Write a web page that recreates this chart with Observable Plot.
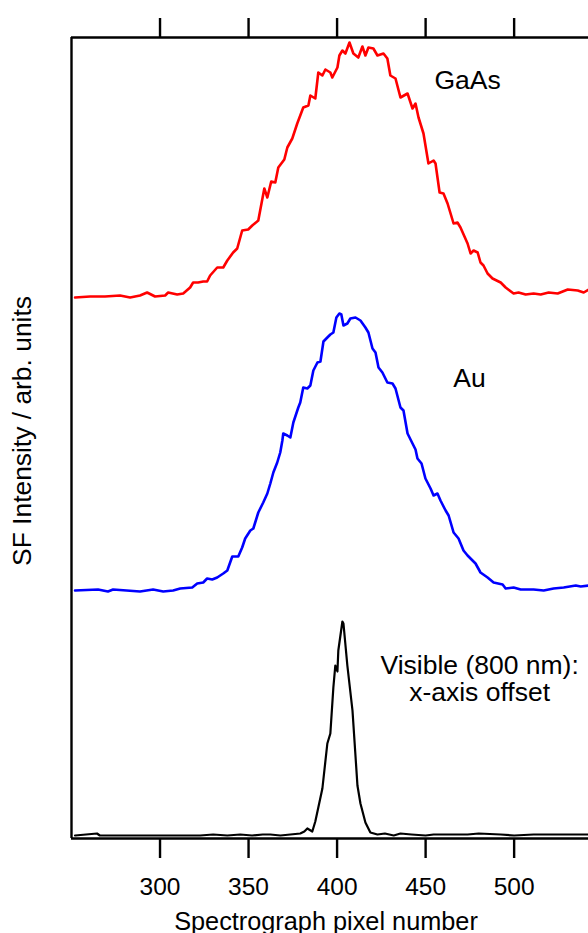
<!DOCTYPE html>
<html><head><meta charset="utf-8">
<script src="https://cdn.jsdelivr.net/npm/d3@7"></script>
<script src="https://cdn.jsdelivr.net/npm/@observablehq/plot@0.6"></script>
<style>body{margin:0;background:#fff} svg{display:block}</style>
</head><body><div id="chart"></div>
<script>
// x: spectrograph pixel number, y: SF intensity (arb. units, traces offset vertically)
const xTicks = [300, 350, 400, 450, 500];

const gaasX = [252.0, 260.5, 268.9, 277.4, 283.1, 288.7, 292.7, 297.2, 302.9, 304.6, 309.7, 313.1, 317.0, 318.7, 321.5, 324.4, 326.6, 328.3, 332.3, 335.7, 338.0, 341.3, 343.6, 346.4, 349.8, 352.1, 355.5, 358.9, 360.6, 362.8, 365.1, 366.8, 370.2, 371.9, 374.7, 377.5, 379.2, 380.9, 383.8, 384.9, 387.7, 389.4, 391.7, 393.4, 396.2, 397.3, 400.2, 401.3, 403.0, 404.7, 407.0, 409.2, 412.0, 414.3, 416.0, 417.7, 420.5, 422.8, 426.2, 428.4, 430.1, 433.0, 435.8, 439.8, 442.6, 444.3, 446.0, 448.8, 451.6, 454.5, 455.6, 457.9, 460.1, 462.4, 465.8, 468.0, 469.7, 473.7, 475.4, 477.1, 479.4, 481.0, 482.7, 485.0, 487.8, 492.4, 495.2, 499.7, 502.5, 506.5, 511.0, 515.0, 519.5, 524.6, 530.3, 535.9, 539.3, 542.1];
const gaasY = [541, 542, 542, 543, 541, 543, 546, 542, 543, 546, 544, 545, 551, 556, 556, 557, 557, 563, 571, 571, 578, 586, 590, 608, 609, 613, 618, 650, 641, 657, 656, 671, 679, 691, 700, 715, 723, 731, 733, 743, 740, 766, 763, 769, 766, 761, 771, 783, 788, 785, 796, 785, 781, 792, 783, 791, 790, 783, 785, 780, 763, 760, 741, 745, 730, 735, 721, 705, 675, 678, 675, 646, 645, 635, 615, 616, 611, 595, 585, 588, 586, 576, 573, 565, 560, 556, 551, 545, 546, 544, 545, 544, 546, 545, 549, 548, 546, 549];

const auX = [252.0, 265.0, 270.6, 273.5, 288.7, 296.1, 301.8, 307.4, 311.4, 318.2, 321.0, 324.4, 326.6, 329.5, 332.3, 335.7, 338.0, 340.8, 344.2, 346.4, 348.1, 351.0, 352.7, 355.5, 358.3, 360.6, 362.3, 364.0, 366.2, 367.9, 369.1, 369.6, 371.9, 373.6, 375.3, 378.1, 379.2, 380.9, 383.2, 384.9, 386.6, 388.9, 390.6, 392.3, 394.5, 396.2, 397.9, 399.6, 401.3, 402.4, 403.6, 405.8, 407.5, 410.4, 413.2, 416.0, 417.7, 420.0, 421.7, 423.4, 425.6, 428.4, 431.3, 433.0, 435.8, 437.5, 439.8, 442.6, 444.3, 445.4, 447.7, 449.9, 452.8, 454.5, 456.7, 458.4, 461.3, 463.0, 465.8, 468.6, 471.4, 473.7, 476.5, 478.2, 481.0, 485.0, 488.4, 493.5, 495.2, 499.7, 503.7, 511.0, 516.7, 522.3, 528.0, 534.8, 537.6, 542.1];
const auY = [248, 249, 247, 249, 247, 249, 247, 248, 250, 251, 255, 256, 260, 259, 261, 265, 268, 282, 282, 291, 300, 308, 310, 326, 336, 345, 355, 366, 376, 386, 398, 405, 403, 401, 416, 431, 436, 451, 450, 453, 468, 476, 477, 497, 501, 504, 506, 521, 525, 524, 513, 515, 520, 521, 518, 511, 506, 490, 486, 471, 466, 456, 455, 450, 431, 428, 405, 395, 389, 380, 375, 360, 350, 343, 345, 338, 328, 323, 306, 300, 288, 283, 278, 275, 266, 261, 256, 254, 250, 251, 249, 249, 248, 250, 251, 253, 252, 253];

const visX = [252.0, 264.4, 266, 279.1, 300.0, 322.7, 330, 338, 345.3, 352, 358, 362.3, 368, 373.6, 379.2, 381.5, 383.2, 386.0, 387.7, 389.4, 391.7, 394.5, 396.2, 397.9, 399.0, 400.2, 400.7, 403.0, 403.6, 405.8, 408.7, 411.5, 413.2, 416.0, 418.8, 422.8, 427, 432, 435.8, 442, 450, 454.5, 462, 473.7, 480, 492.4, 500, 511.0, 520, 530, 542.1];
const visY = [3, 5, 3, 3, 3, 3, 4, 3, 4, 3, 4, 4, 3, 4, 5, 7, 10, 7, 17, 31, 50, 95, 105, 151, 173, 167, 188, 217, 215, 173, 128, 53, 35, 16, 6, 4, 5, 3, 5, 4, 3, 4, 4, 4, 5, 4, 3, 4, 4, 4, 4];

const labels = ["GaAs", "Au", "Visible (800 nm):\nx-axis offset"];
const labelX = [473.7, 474.8, 480.5];
const labelY = [758, 460, 160];

const xTitle = "Spectrograph pixel number";
const yTitle = "SF Intensity / arb. units";

const rows = (xs, ys) => xs.map((x, i) => ({x, y: ys[i]}));
const annot = labels.map((label, i) => ({label, x: labelX[i], y: labelY[i]}));
const font = "'Liberation Sans', Arial, Helvetica, sans-serif";

const chart = Plot.plot({
  width: 588, height: 933,
  marginLeft: 71, marginRight: 0, marginTop: 37, marginBottom: 95,
  x: {domain: [250, 542]},
  y: {domain: [0, 801], axis: null},
  style: {fontFamily: font, fontSize: "24px", color: "black", background: "white", overflow: "visible"},
  marks: [
    Plot.ruleX([250], {stroke: "black", strokeWidth: 2.4}),
    Plot.ruleY([0, 801], {stroke: "black", strokeWidth: 2.4}),
    Plot.axisX({anchor: "bottom", ticks: xTicks, tickSize: 20, tickPadding: 19, strokeWidth: 2.4, label: null, fontSize: 24.5, tickFormat: d3.format("d")}),
    Plot.axisX({anchor: "top", ticks: xTicks, tickSize: 20, strokeWidth: 2.4, label: null, tickFormat: () => ""}),
    Plot.line(rows(gaasX, gaasY), {x: "x", y: "y", stroke: "#ff0000", strokeWidth: 2.6, strokeLinejoin: "round", clip: true}),
    Plot.line(rows(auX, auY), {x: "x", y: "y", stroke: "#0000ff", strokeWidth: 2.6, strokeLinejoin: "round", clip: true}),
    Plot.line(rows(visX, visY), {x: "x", y: "y", stroke: "black", strokeWidth: 2.2, strokeLinejoin: "round", clip: true}),
    Plot.text(annot, {x: "x", y: "y", text: "label", fontSize: 26.5, lineHeight: 1.02, textAnchor: "middle", lineAnchor: "middle", fill: "black"}),
    Plot.text([xTitle], {frameAnchor: "bottom", dx: -4, dy: 83, textAnchor: "middle", lineAnchor: "middle", fontSize: 25.3, fill: "black"}),
    Plot.text([yTitle], {frameAnchor: "left", rotate: -90, dx: -49, dy: -7, textAnchor: "middle", lineAnchor: "middle", fontSize: 26.4, fill: "black"})
  ]
});
document.getElementById("chart").appendChild(chart);
</script>
</body></html>
